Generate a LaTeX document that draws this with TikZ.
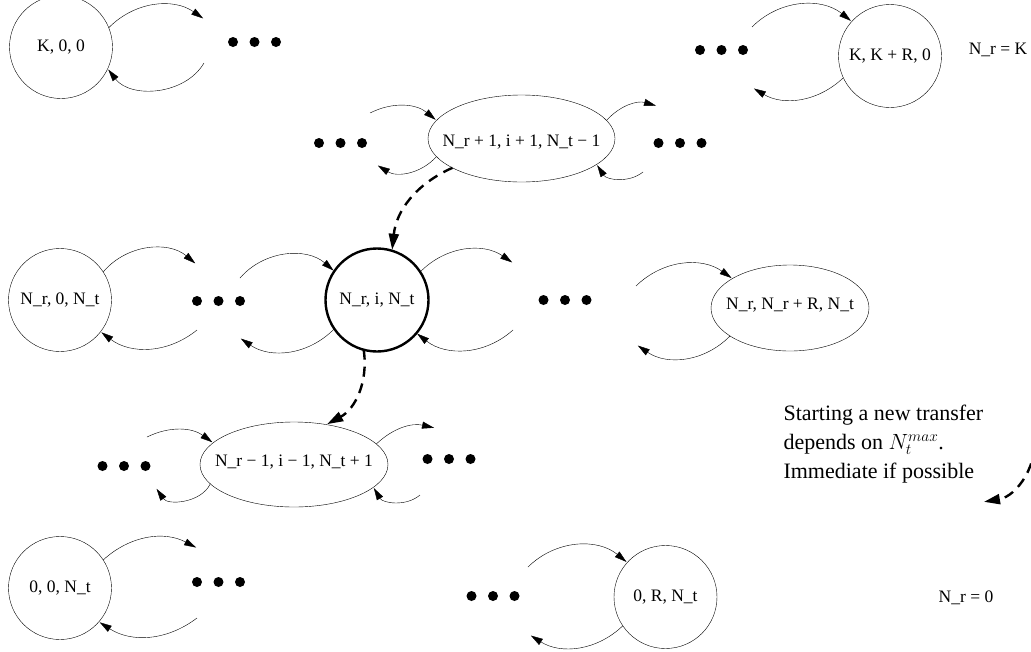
\documentclass[tikz,border=0pt]{standalone}
\usepackage{fix-cm}
\usepackage{fontspec}
\setmainfont{Liberation Serif}
\usepackage{tikz}
\usetikzlibrary{automata,arrows.meta,shapes.geometric}

\begin{document}
\begin{tikzpicture}[x=1pt,y=1pt,>={Triangle[length=12pt,width=7pt]},shorten >=1pt,
  every state/.style={draw,minimum size=103pt,inner sep=0pt,outer sep=0pt,font=\fontsize{17.5}{20}\selectfont},
  oval/.style={state,ellipse},
  tag/.style={font=\fontsize{17.5}{20}\selectfont},
  tridots/.style={inner sep=0pt,minimum width=56pt,minimum height=12pt,
    path picture={\foreach \dx in {-21.5,0,21.5} \fill ([xshift=\dx pt]path picture bounding box.center) circle (5pt);}},
  jump/.style={->,line width=2.4pt,dash pattern=on 10pt off 7pt,>={Triangle[length=16pt,width=10pt]}}]

  \useasboundingbox (0,0) rectangle (1031,-651);

  \node[state] (kzz) at (61,-47) {K, 0, 0};
  \node[state] (kkr) at (890,-56) {K, K + R, 0};
  \node[tag] (nrk) at (998,-50) {N\_r = K};
  \node[oval, minimum width=187pt, minimum height=87pt,
    label={[tag,yshift=-4pt]center:N\_r + 1, i + 1, N\_t − 1}] (up) at (521.5,-138.5) {};
  \node[state] (nrz) at (60,-300) {N\_r, 0, N\_t};
  \node[state, line width=2.4pt] (mid) at (377,-300) {N\_r, i, N\_t};
  \node[oval, minimum width=158pt, minimum height=86pt,
    label={[tag,yshift=3pt]center:N\_r, N\_r + R, N\_t}] (nrr) at (790,-308) {};
  \node[oval, minimum width=188pt, minimum height=85pt,
    label={[tag,yshift=2pt]center:N\_r − 1, i − 1, N\_t + 1}] (low) at (294,-464.5) {};
  \node[state] (zzn) at (60,-588) {0, 0, N\_t};
  \node[state] (zrn) at (665.5,-597) {0, R, N\_t};
  \node[tag] (nrz0) at (966,-598) {N\_r = 0};
  \node[align=left, anchor=west, font=\fontsize{22}{29}\selectfont] (note) at (780,-444)
    {Starting a new transfer\\depends on $N_t^{max}$.\\Immediate if possible};

  \node[tridots] (d1) at (254.5,-42) {};
  \node[tridots] (d2) at (721.5,-50) {};
  \node[tridots] (d3) at (340.5,-143) {};
  \node[tridots] (d4) at (680,-143) {};
  \node[tridots] (d5) at (218.5,-301) {};
  \node[tridots] (d6) at (565,-300) {};
  \node[tridots] (d7) at (124,-466) {};
  \node[tridots] (d8) at (449,-459) {};
  \node[tridots] (d9) at (218.5,-582) {};
  \node[tridots] (d10) at (493,-596) {};

  \coordinate (a1) at (204,-19);  \coordinate (a2) at (204,-63);
  \coordinate (b1) at (752,-27);  \coordinate (b2) at (753,-88);
  \coordinate (c1) at (370,-113); \coordinate (c2) at (377,-165);
  \coordinate (c3) at (657,-106); \coordinate (c4) at (643,-172);
  \coordinate (e1) at (196,-264); \coordinate (e2) at (197,-330);
  \coordinate (f1) at (240,-278); \coordinate (f2) at (240,-338);
  \coordinate (f3) at (513,-263); \coordinate (f4) at (513,-330);
  \coordinate (g1) at (636,-286); \coordinate (g2) at (637,-345);
  \coordinate (h1) at (147,-437); \coordinate (h2) at (156,-488);
  \coordinate (h3) at (435,-428); \coordinate (h4) at (420,-495);
  \coordinate (i1) at (197,-548); \coordinate (i2) at (197,-618);
  \coordinate (j1) at (528,-567); \coordinate (j2) at (530,-635);
  \coordinate (k1) at (1034,-430); \coordinate (k2) at (983,-502);

  \path[->]
  (kzz.22) edge [bend left=40] (a1)
  (a2) edge [bend left=56] (kzz.-25)

  (b1) edge [bend left=42] (kkr.138)
  (kkr.205) edge [bend left=37] (b2)

  (c1) edge [bend left=33] (up.168)
  (up.192) edge [bend left=40] (c2)
  (up.12) edge [bend left=32] (c3)
  (c4) edge [bend left=48] (up.-19)

  (nrz.33) edge [bend left=45] (e1)
  (e2) edge [bend left=38] (nrz.-38)

  (f1) edge [bend left=45] (mid.146)
  (mid.214) edge [bend left=40] (f2)
  (mid.33) edge [bend left=40] (f3)
  (f4) edge [bend left=40] (mid.-40)

  (g1) edge [bend left=40] (nrr.153)
  (nrr.205) edge [bend left=40] (g2)

  (h1) edge [bend left=31] (low.165)
  (low.193) edge [bend left=60] (h2)
  (low.14) edge [bend left=28] (h3)
  (h4) edge [bend left=50] (low.-16.5)

  (zzn.33) edge [bend left=35] (i1)
  (i2) edge [bend left=35] (zzn.-41)

  (j1) edge [bend left=42] (zrn.138)
  (zrn.214) edge [bend left=38] (j2)
  ;

  \path[jump]
  (up.203) edge [bend right=30] (mid.73)
  (mid.255) edge [bend left=35] (low.51)
  (k1) edge [bend left=45] (k2)
  ;
\end{tikzpicture}
\end{document}
